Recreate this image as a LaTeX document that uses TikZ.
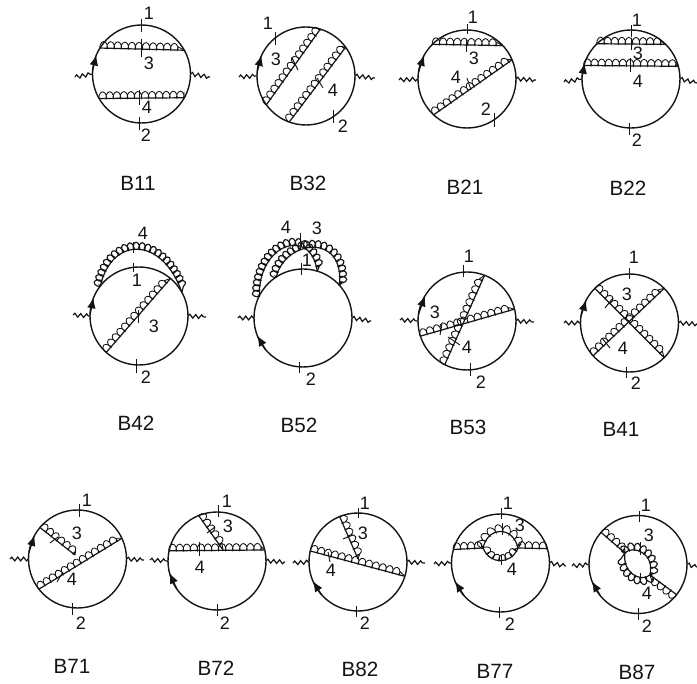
\documentclass[tikz,border=0pt]{standalone}
\usepackage{xcolor}
\usepackage{fontspec}
\setsansfont{Liberation Sans}
\usepackage{tikz}
\usetikzlibrary{arrows.meta, decorations.pathmorphing}
\definecolor{Ink}{HTML}{141414}

\begin{document}
\begin{tikzpicture}[
  x=0.75pt, y=-0.75pt,
  font=\sffamily,
  blob/.style={circle, draw=Ink, line width=1.05pt, minimum size=73.5pt, inner sep=0pt, outer sep=0pt},
  flow/.style={-{Latex[length=8pt, width=6.5pt]}, line width=1pt, draw=Ink},
  photon/.style={draw=Ink, line width=0.9pt, decorate, decoration={snake, amplitude=1.4pt, segment length=4.4pt}},
  gluon/.style={draw=Ink, line width=0.9pt, postaction={draw=Ink, line width=0.65pt, decorate, decoration={coil, amplitude=-2.5pt, segment length=5.3pt, aspect=0.5, raise=2.5pt}}},
  tightgluon/.style={draw=Ink, line width=0.9pt, postaction={draw=Ink, line width=0.85pt, decorate, decoration={coil, amplitude=-2.6pt, segment length=4pt, aspect=0.5, raise=2.6pt}}},
  tick/.style={draw=Ink, line width=0.7pt},
  num/.style={text=Ink, font=\sffamily\fontsize{13.5}{15}\selectfont, inner sep=0pt},
  title/.style={text=Ink, font=\sffamily\fontsize{15.5}{17}\selectfont, inner sep=0pt}
]
\useasboundingbox (0,0) rectangle (697,684);

\node[blob] (b11) at (141.5,74) {};
\coordinate (b11l) at (75,77);
\coordinate (b11r) at (210,77);
\draw[photon] (b11l) -- (b11.west);
\draw[photon] (b11.east) -- (b11r);
\draw[flow] (b11.176) -- (b11.157);
\draw[gluon] (b11.148) -- (b11.29);
\draw[gluon] (b11.210) -- (b11.-29);
\draw[tick] (141,19) -- (141,32);
\draw[tick] (141,39) -- (141,57);
\draw[tick] (139,90) -- (139,105);
\draw[tick] (139,117) -- (139,130);
\node[num] (b11a) at (149,13) {1};
\node[num] (b11b) at (149,63) {3};
\node[num] (b11c) at (147,107) {4};
\node[num] (b11d) at (146,135) {2};
\node[title] (b11t) at (138,183) {B11};

\node[blob] (b32) at (306,76) {};
\coordinate (b32l) at (239,77);
\coordinate (b32r) at (375,78);
\draw[photon] (b32l) -- (b32.west);
\draw[photon] (b32.east) -- (b32r);
\draw[flow] (b32.175) -- (b32.155);
\draw[gluon] (b32.216) -- (b32.73);
\draw[gluon] (b32.250) -- (b32.36);
\draw[tick] (275,32) -- (275,45);
\draw[tick] (292,58) -- (298,70);
\draw[tick] (317,78) -- (323,88);
\draw[tick] (333,110) -- (333,123);
\node[num] (b32a) at (268,23) {1};
\node[num] (b32b) at (276,59) {3};
\node[num] (b32c) at (333,90) {4};
\node[num] (b32d) at (343,126) {2};
\node[title] (b32t) at (308,183) {B32};

\node[blob] (b21) at (467,79) {};
\coordinate (b21l) at (399,80);
\coordinate (b21r) at (536,80);
\draw[photon] (b21l) -- (b21.west);
\draw[photon] (b21.east) -- (b21r);
\draw[flow] (b21.172) -- (b21.151);
\draw[gluon] (b21.135) -- (b21.43);
\draw[gluon] (b21.227) -- (b21.23);
\draw[tick] (467,24) -- (467,34);
\draw[tick] (466,39) -- (466,52);
\draw[tick] (467,78) -- (471,90);
\draw[tick] (494,113) -- (494,127);
\node[num] (b21a) at (473,17) {1};
\node[num] (b21b) at (474,58) {3};
\node[num] (b21c) at (456,77) {4};
\node[num] (b21d) at (486,109) {2};
\node[title] (b21t) at (465,187) {B21};

\node[blob] (b22) at (631,79) {};
\coordinate (b22l) at (564,82);
\coordinate (b22r) at (697,83);
\draw[photon] (b22l) -- (b22.west);
\draw[photon] (b22.east) -- (b22r);
\draw[flow] (b22.178) -- (b22.161);
\draw[gluon] (b22.134) -- (b22.45);
\draw[gluon] (b22.164) -- (b22.15);
\draw[tick] (631,25) -- (631,37);
\draw[tick] (631,38) -- (631,50);
\draw[tick] (630,58) -- (630,72);
\draw[tick] (629,123) -- (629,135);
\node[num] (b22a) at (637,20) {1};
\node[num] (b22b) at (638,53) {3};
\node[num] (b22c) at (638,81) {4};
\node[num] (b22d) at (637,140) {2};
\node[title] (b22t) at (628,188) {B22};

\node[blob] (b42) at (139,316) {};
\coordinate (b42l) at (73,315);
\coordinate (b42r) at (206,317);
\draw[photon] (b42l) -- (b42.west);
\draw[photon] (b42.east) -- (b42r);
\draw[flow] (b42.178) -- (b42.158);
\draw[gluon] (b42.228) -- (b42.50);
\draw[tightgluon] (b42.142) .. controls (112,236) and (162,236) .. (b42.29);
\draw[tick] (133,242) -- (133,253);
\draw[tick] (133,263) -- (133,272);
\draw[tick] (138,310) -- (138,323);
\draw[tick] (136,359) -- (136,373);
\node[num] (b42a) at (143,233) {4};
\node[num] (b42b) at (137,280) {1};
\node[num] (b42c) at (154,326) {3};
\node[num] (b42d) at (146,377) {2};
\node[title] (b42t) at (136,423) {B42};

\node[blob] (b52) at (303,318) {};
\coordinate (b52l) at (238,318);
\coordinate (b52r) at (371,321);
\draw[photon] (b52l) -- (b52.west);
\draw[photon] (b52.east) -- (b52r);
\draw[flow] (b52.220) -- (b52.201);
\draw[tightgluon] (b52.153) .. controls (258,245) and (310,225) .. (b52.73);
\draw[tightgluon] (b52.123) .. controls (285,240) and (345,232) .. (b52.42);
\draw[tick] (300,233) -- (300,250);
\draw[tick] (301,263) -- (301,275);
\draw[tick] (299,362) -- (299,373);
\node[num] (b52a) at (286,227) {4};
\node[num] (b52b) at (317,228) {3};
\node[num] (b52c) at (307,260) {1};
\node[num] (b52d) at (311,379) {2};
\node[title] (b52t) at (299,425) {B52};

\node[blob] (b53) at (467,321) {};
\coordinate (b53l) at (400,320);
\coordinate (b53r) at (534,322);
\draw[photon] (b53l) -- (b53.west);
\draw[photon] (b53.east) -- (b53r);
\draw[flow] (b53.172) -- (b53.149);
\draw[gluon] (b53.243) -- (b53.69);
\draw[gluon] (b53.198) -- (b53.14);
\draw[tick] (442,324) -- (440,335);
\draw[tick] (448,337) -- (460,345);
\draw[tick] (463,265) -- (463,277);
\draw[tick] (470,363) -- (470,376);
\node[num] (b53a) at (469,256) {1};
\node[num] (b53b) at (435,312) {3};
\node[num] (b53c) at (467,347) {4};
\node[num] (b53d) at (481,382) {2};
\node[title] (b53t) at (468,427) {B53};

\node[blob] (b41) at (629.5,323) {};
\coordinate (b41l) at (564,323);
\coordinate (b41r) at (697,324);
\draw[photon] (b41l) -- (b41.west);
\draw[photon] (b41.east) -- (b41r);
\draw[flow] (b41.172) -- (b41.152);
\draw[gluon] (b41.135) -- (b41.-45);
\draw[gluon] (b41.222) -- (b41.45);
\draw[tick] (605,308) -- (613,298);
\draw[tick] (602,338) -- (610,348);
\draw[tick] (629,268) -- (629,279);
\draw[tick] (626,367) -- (626,378);
\node[num] (b41a) at (634,257) {1};
\node[num] (b41b) at (627,294) {3};
\node[num] (b41c) at (623,348) {4};
\node[num] (b41d) at (636,383) {2};
\node[title] (b41t) at (621,429) {B41};

\node[blob] (b71) at (77.5,559) {};
\coordinate (v71) at (75,555);
\coordinate (b71l) at (10,559);
\coordinate (b71r) at (144,560);
\draw[photon] (b71l) -- (b71.west);
\draw[photon] (b71.east) -- (b71r);
\draw[flow] (b71.172) -- (b71.151);
\draw[gluon] (b71.218) -- (b71.25);
\draw[gluon] (b71.140) -- (v71);
\draw[tick] (79,504) -- (79,517);
\draw[tick] (50,543) -- (58,537);
\draw[tick] (57,582) -- (63,572);
\draw[tick] (72,603) -- (72,615);
\node[num] (b71a) at (87,500) {1};
\node[num] (b71b) at (77,533) {3};
\node[num] (b71c) at (72,579) {4};
\node[num] (b71d) at (81,623) {2};
\node[title] (b71t) at (72,666) {B71};

\node[blob] (b72) at (217,561) {};
\coordinate (v72) at (223,550);
\coordinate (b72l) at (150,560);
\coordinate (b72r) at (285,562);
\draw[photon] (b72l) -- (b72.west);
\draw[photon] (b72.east) -- (b72r);
\draw[flow] (b72.215) -- (b72.194);
\draw[gluon] (b72.168) -- (b72.13);
\draw[gluon] (b72.112) -- (v72);
\draw[tick] (218,505) -- (218,517);
\draw[tick] (199,542) -- (199,556);
\draw[tick] (207,533) -- (215,527);
\draw[tick] (217,604) -- (217,616);
\node[num] (b72a) at (227,501) {1};
\node[num] (b72b) at (228,526) {3};
\node[num] (b72c) at (200,567) {4};
\node[num] (b72d) at (225,623) {2};
\node[title] (b72t) at (216,668) {B72};

\node[blob] (b82) at (358,562) {};
\coordinate (v82) at (358,559);
\coordinate (b82l) at (293,563);
\coordinate (b82r) at (425,563);
\draw[photon] (b82l) -- (b82.west);
\draw[photon] (b82.east) -- (b82r);
\draw[flow] (b82.222) -- (b82.203);
\draw[gluon] (b82.167) -- (b82.-17);
\draw[gluon] (b82.112) -- (v82);
\draw[tick] (358,508) -- (358,518);
\draw[tick] (328,552) -- (330,562);
\draw[tick] (343,539) -- (353,535);
\draw[tick] (356,606) -- (356,617);
\node[num] (b82a) at (365,503) {1};
\node[num] (b82b) at (363,533) {3};
\node[num] (b82c) at (331,570) {4};
\node[num] (b82d) at (365,623) {2};
\node[title] (b82t) at (360,669) {B82};

\node[blob] (b77) at (500.5,563) {};
\coordinate (v77l) at (483,548);
\coordinate (v77r) at (518,548);
\coordinate (b77l) at (434,564);
\coordinate (b77r) at (566,566);
\draw[photon] (b77l) -- (b77.west);
\draw[photon] (b77.east) -- (b77r);
\draw[flow] (b77.222) -- (b77.202);
\draw[gluon] (b77.164) -- (v77l);
\draw[gluon] (v77r) -- (b77.17);
\draw[gluon] (v77l) .. controls (488,526) and (513,526) .. (v77r);
\draw[gluon] (v77l) .. controls (490,565) and (511,565) .. (v77r);
\draw[tick] (501,508) -- (501,519);
\draw[tick] (502,523) -- (502,535);
\draw[tick] (501,555) -- (501,565);
\draw[tick] (499,607) -- (499,618);
\node[num] (b77a) at (508,503) {1};
\node[num] (b77b) at (520,525) {3};
\node[num] (b77c) at (512,569) {4};
\node[num] (b77d) at (510,624) {2};
\node[title] (b77t) at (495,671) {B77};

\node[blob] (b87) at (638,564.5) {};
\coordinate (v87l) at (625,553);
\coordinate (v87r) at (650,575);
\coordinate (b87l) at (572,566);
\coordinate (b87r) at (697,567);
\draw[photon] (b87l) -- (b87.west);
\draw[photon] (b87.east) -- (b87r);
\draw[flow] (b87.220) -- (b87.200);
\draw[gluon] (b87.139) -- (v87l);
\draw[gluon] (b87.-38) -- (v87r);
\draw[tightgluon] (v87l) .. controls (632,545) and (655,552) .. (v87r);
\draw[tightgluon] (v87r) .. controls (640,583) and (622,572) .. (v87l);
\draw[tick] (639,511) -- (639,522);
\draw[tick] (640,542) -- (640,555);
\draw[tick] (640,573) -- (640,583);
\draw[tick] (638,608) -- (638,620);
\node[num] (b87a) at (646,505) {1};
\node[num] (b87b) at (649,535) {3};
\node[num] (b87c) at (647,593) {4};
\node[num] (b87d) at (647,626) {2};
\node[title] (b87t) at (637,672) {B87};
\end{tikzpicture}
\end{document}
